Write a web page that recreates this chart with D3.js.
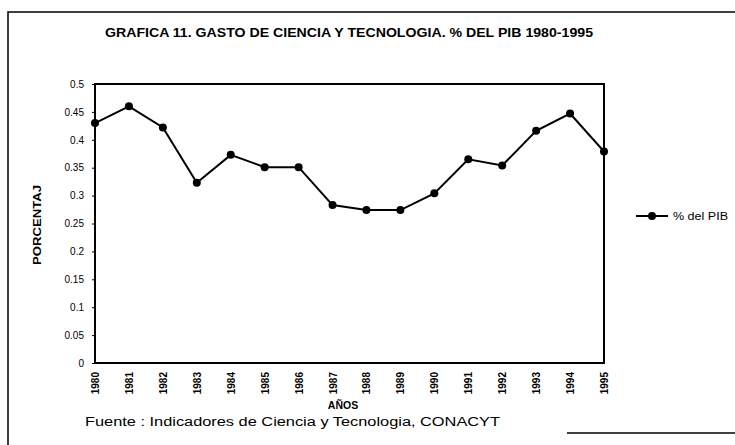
<!DOCTYPE html>
<html>
<head>
<meta charset="utf-8">
<script src="https://cdn.jsdelivr.net/npm/d3@7"></script>
<style>
    body { margin: 0; background: #fff; }
    text { font-family: "Liberation Sans", Arial, sans-serif; fill: #000; }
</style>
</head>
<body>
<div id="chart"></div>
<script>
// data
let years = ["1980", "1981", "1982", "1983", "1984", "1985", "1986", "1987",
    "1988", "1989", "1990", "1991", "1992", "1993", "1994", "1995"];
let pctPib = [0.43, 0.46, 0.422, 0.323, 0.373, 0.351, 0.351, 0.283,
    0.274, 0.274, 0.304, 0.365, 0.354, 0.416, 0.447, 0.379];
let yTicks = [0, 0.05, 0.1, 0.15, 0.2, 0.25, 0.3, 0.35, 0.4, 0.45, 0.5];
let yTickLabels = ["0", "0.05", "0.1", "0.15", "0.2", "0.25", "0.3", "0.35", "0.4", "0.45", "0.5"];
let seriesName = "% del PIB";

let width = 735,
    height = 445;

let svg = d3.select("#chart")
    .append("svg")
    .attr("width", width)
    .attr("height", height);

// outer frame (only partially visible in the scan)
svg.append("path")
    .attr("d", "M8,445 L8,12 L735,12")
    .attr("fill", "none")
    .attr("stroke", "#000")
    .attr("stroke-width", 1.5);
svg.append("line")
    .attr("x1", 567).attr("x2", 735)
    .attr("y1", 433).attr("y2", 433)
    .attr("stroke", "#000")
    .attr("stroke-width", 1.5);

// title
svg.append("text")
    .attr("x", 105)
    .attr("y", 37)
    .attr("font-size", "13px")
    .attr("font-weight", "bold")
    .attr("textLength", 488)
    .attr("lengthAdjust", "spacingAndGlyphs")
    .text("GRAFICA 11. GASTO DE CIENCIA Y TECNOLOGIA. % DEL PIB 1980-1995");

let plot = { left: 95, right: 604, top: 84, bottom: 363 };

let x = d3.scalePoint()
    .domain(years)
    .range([plot.left, plot.right]);

let y = d3.scaleLinear()
    .domain([0, 0.5])
    .range([plot.bottom, plot.top]);

// plot frame
svg.append("rect")
    .attr("x", plot.left)
    .attr("y", plot.top)
    .attr("width", plot.right - plot.left)
    .attr("height", plot.bottom - plot.top)
    .attr("fill", "none")
    .attr("stroke", "#000")
    .attr("stroke-width", 2);

// y axis
let yAxis = d3.axisLeft(y)
    .tickValues(yTicks)
    .tickFormat((d, i) => yTickLabels[i])
    .tickSize(3)
    .tickPadding(8);

svg.append("g")
    .attr("class", "y-axis")
    .attr("transform", "translate(" + plot.left + ",0)")
    .call(yAxis)
    .call(g => g.select(".domain").remove())
    .call(g => g.selectAll("text").attr("font-size", "10px").attr("font-family", "Liberation Sans, Arial, sans-serif"));

// x axis
let xAxis = d3.axisBottom(x)
    .tickSize(0)
    .tickPadding(6);

svg.append("g")
    .attr("class", "x-axis")
    .attr("transform", "translate(0," + plot.bottom + ")")
    .call(xAxis)
    .call(g => g.select(".domain").remove());

svg.selectAll(".x-axis text")
    .attr("transform", "rotate(-90)")
    .attr("x", -9)
    .attr("y", 0)
    .attr("dy", "0.35em")
    .attr("font-size", "10px")
    .attr("font-weight", "bold")
    .attr("font-family", "Liberation Sans, Arial, sans-serif")
    .style("text-anchor", "end");

// axis titles
svg.append("text")
    .attr("transform", "translate(41,225) rotate(-90)")
    .attr("text-anchor", "middle")
    .attr("font-size", "10px")
    .attr("font-weight", "bold")
    .attr("textLength", 80)
    .attr("lengthAdjust", "spacingAndGlyphs")
    .text("PORCENTAJ");

svg.append("text")
    .attr("x", 343)
    .attr("y", 409)
    .attr("text-anchor", "middle")
    .attr("font-size", "10.5px")
    .attr("font-weight", "bold")
    .text("AÑOS");

svg.append("text")
    .attr("x", 85)
    .attr("y", 426)
    .attr("font-size", "12.5px")
    .attr("textLength", 415)
    .attr("lengthAdjust", "spacingAndGlyphs")
    .text("Fuente : Indicadores de Ciencia y Tecnologia, CONACYT");

// series line
let line = d3.line()
    .x((d, i) => x(years[i]))
    .y(d => y(d));

svg.append("path")
    .datum(pctPib)
    .attr("d", line)
    .attr("fill", "none")
    .attr("stroke", "#000")
    .attr("stroke-width", 2);

svg.selectAll(".dot")
    .data(pctPib)
    .enter()
    .append("circle")
    .attr("class", "dot")
    .attr("cx", (d, i) => x(years[i]))
    .attr("cy", d => y(d))
    .attr("r", 4)
    .attr("fill", "#000");

// legend
let legend = svg.append("g")
    .attr("transform", "translate(636,216)");
legend.append("line")
    .attr("x1", 0).attr("x2", 32)
    .attr("y1", 0).attr("y2", 0)
    .attr("stroke", "#000")
    .attr("stroke-width", 2);
legend.append("circle")
    .attr("cx", 16)
    .attr("cy", 0)
    .attr("r", 4)
    .attr("fill", "#000");
legend.append("text")
    .attr("x", 37)
    .attr("y", 0)
    .attr("dy", "0.35em")
    .attr("font-size", "10px")
    .attr("textLength", 55)
    .attr("lengthAdjust", "spacingAndGlyphs")
    .text(seriesName);
</script>
</body>
</html>
